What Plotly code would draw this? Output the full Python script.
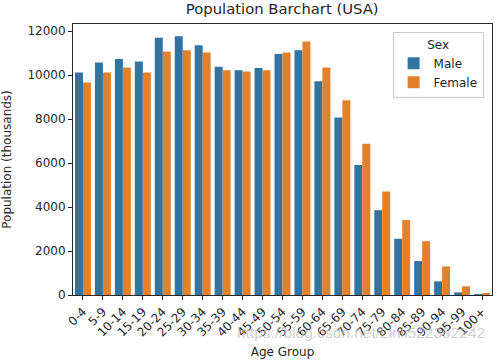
import plotly.graph_objects as go

age_groups = ["0-4", "5-9", "10-14", "15-19", "20-24", "25-29", "30-34", "35-39",
              "40-44", "45-49", "50-54", "55-59", "60-64", "65-69", "70-74", "75-79",
              "80-84", "85-89", "90-94", "95-99", "100+"]
male = [10120, 10580, 10740, 10620, 11710, 11770, 11360, 10390, 10230, 10330,
        10970, 11140, 9730, 8080, 5910, 3860, 2560, 1545, 620, 120, 12]
female = [9670, 10120, 10350, 10120, 11080, 11140, 11030, 10230, 10170, 10230,
          11030, 11530, 10350, 8860, 6880, 4710, 3410, 2450, 1300, 395, 60]
y_ticks = [0, 2000, 4000, 6000, 8000, 10000, 12000]

font = "DejaVu Sans"
fs = 12
fig = go.Figure()
fig.add_trace(go.Bar(x=age_groups, y=male, name="Male", marker_color="#3274a1",
                     marker_line_width=0))
fig.add_trace(go.Bar(x=age_groups, y=female, name="Female", marker_color="#e1812c",
                     marker_line_width=0))

fig.update_layout(
    width=500, height=360,
    margin=dict(l=73, r=8, t=24, b=65),
    paper_bgcolor="white", plot_bgcolor="white",
    barmode="group", bargap=0.2, bargroupgap=0,
    font=dict(family=font, size=fs, color="#262626"),
    title=dict(text="Population Barchart (USA)", x=0.5645, xanchor="center",
               y=0.99, yanchor="top", font=dict(size=14.8, color="#262626")),
    legend=dict(x=0.98, xanchor="right", y=0.97, yanchor="top",
                bgcolor="rgba(255,255,255,0.8)", bordercolor="#cccccc", borderwidth=1,
                title=dict(text="Sex", side="top center", font=dict(size=fs)),
                font=dict(size=fs), tracegroupgap=0),
    xaxis=dict(title=dict(text="Age Group", standoff=9, font=dict(size=fs)),
               tickangle=-45, ticks="outside", ticklen=4, tickcolor="#262626",
               showline=True, linecolor="#262626", linewidth=1, mirror=True,
               range=[-0.5, 20.5], tickfont=dict(size=fs), automargin=False),
    yaxis=dict(title=dict(text="Population (thousands)", font=dict(size=fs)),
               tickvals=y_ticks, tickformat="d", ticks="outside", ticklen=4,
               tickcolor="#262626", tickfont=dict(size=fs),
               showline=True, linecolor="#262626", linewidth=1, mirror=True,
               showgrid=False, range=[0, 12330], zeroline=False, automargin=False),
)
fig.add_annotation(text="https://blog.csdn.net/Linli522362242", xref="paper", yref="paper",
                   x=0.387, xanchor="left", y=-0.14, yanchor="middle", showarrow=False,
                   font=dict(size=15.5, color="rgba(185,185,185,0.7)", family="Liberation Sans"))
fig.write_html("out.html", config={"displayModeBar": False},
               post_script="document.body.style.margin='0';document.body.style.overflow='hidden';")
